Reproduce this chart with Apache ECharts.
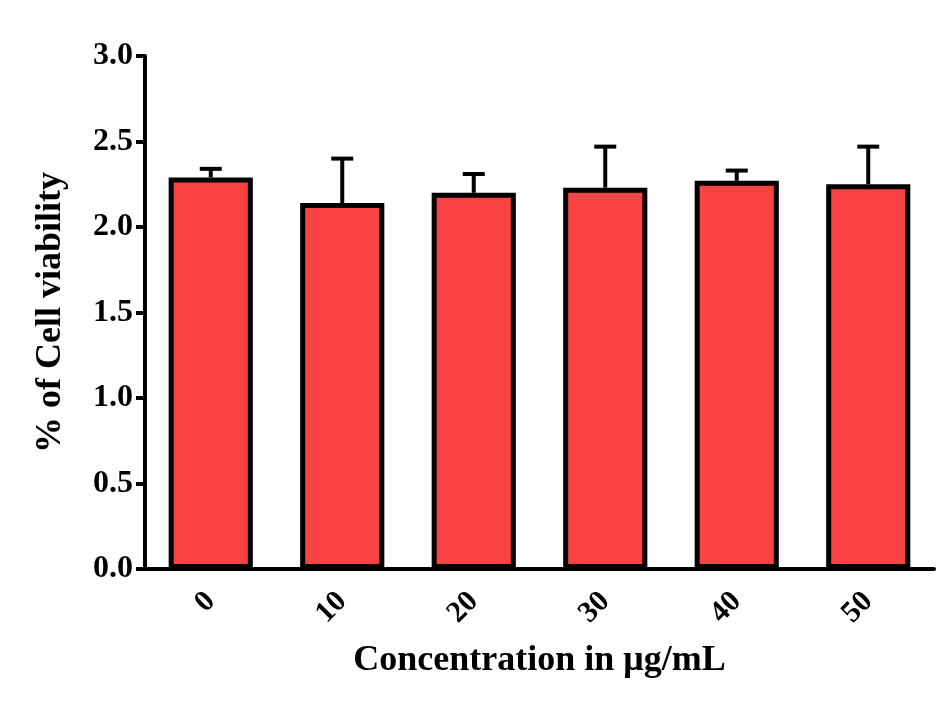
<!DOCTYPE html>
<html>
<head>
<meta charset="utf-8">
<script src="https://cdn.jsdelivr.net/npm/echarts@6/dist/echarts.min.js"></script>
<style>
  html, body { margin: 0; padding: 0; background: #fff; }
  #chart { width: 952px; height: 707px; }
</style>
</head>
<body>
<div id="chart"></div>
<script>
var concentrations = ['0', '10', '20', '30', '40', '50'];
var viability = [2.29, 2.14, 2.20, 2.23, 2.27, 2.25];
var sem = [0.05, 0.26, 0.11, 0.24, 0.06, 0.22];
var yTicks = [0, 0.5, 1.0, 1.5, 2.0, 2.5, 3.0];

var font = '"Liberation Serif", "Times New Roman", serif';
var myChart = echarts.init(document.getElementById('chart'));

var errData = concentrations.map(function (c, i) {
  return [i, viability[i], viability[i] + sem[i]];
});

option = {
  animation: false,
  grid: { left: 145, right: 18, top: 56, bottom: 138 },
  xAxis: {
    type: 'category',
    data: concentrations,
    name: 'Concentration in \u03bcg/mL',
    nameLocation: 'middle',
    nameGap: 74,
    nameTextStyle: { fontFamily: font, fontWeight: 'bold', fontSize: 36, color: '#000' },
    axisLine: { lineStyle: { color: '#000', width: 4 } },
    axisTick: { alignWithLabel: true, length: 10, lineStyle: { color: '#000', width: 4 } },
    axisLabel: {
      rotate: 45,
      margin: 28,
      fontFamily: font,
      fontWeight: 'bold',
      fontSize: 30,
      color: '#000'
    }
  },
  yAxis: {
    type: 'value',
    min: 0,
    max: 3,
    interval: 0.5,
    name: '% of Cell viability',
    nameLocation: 'middle',
    nameGap: 76,
    nameTextStyle: { fontFamily: font, fontWeight: 'bold', fontSize: 36, color: '#000' },
    axisLine: { show: true, lineStyle: { color: '#000', width: 4 } },
    axisTick: { show: true, length: 9, lineStyle: { color: '#000', width: 4 } },
    splitLine: { show: false },
    axisLabel: {
      margin: 12,
      fontFamily: font,
      fontWeight: 'bold',
      fontSize: 32,
      color: '#000',
      formatter: function (v) {
        return yTicks.indexOf(v) >= 0 ? v.toFixed(1) : '';
      }
    }
  },
  series: [
    {
      type: 'bar',
      data: viability,
      barWidth: '64%',
      itemStyle: { color: '#f94242', borderColor: '#000', borderWidth: 5 },
      z: 2
    },
    {
      type: 'custom',
      data: errData,
      z: 1,
      renderItem: function (params, api) {
        var x = api.value(0);
        var base = api.coord([x, api.value(1)]);
        var top = api.coord([x, api.value(2)]);
        var half = 11;
        return {
          type: 'group',
          children: [
            {
              type: 'line',
              shape: { x1: base[0], y1: base[1], x2: top[0], y2: top[1] },
              style: { stroke: '#000', lineWidth: 4 }
            },
            {
              type: 'line',
              shape: { x1: top[0] - half, y1: top[1], x2: top[0] + half, y2: top[1] },
              style: { stroke: '#000', lineWidth: 4 }
            }
          ]
        };
      }
    }
  ]
};

myChart.setOption(option);
</script>
</body>
</html>
